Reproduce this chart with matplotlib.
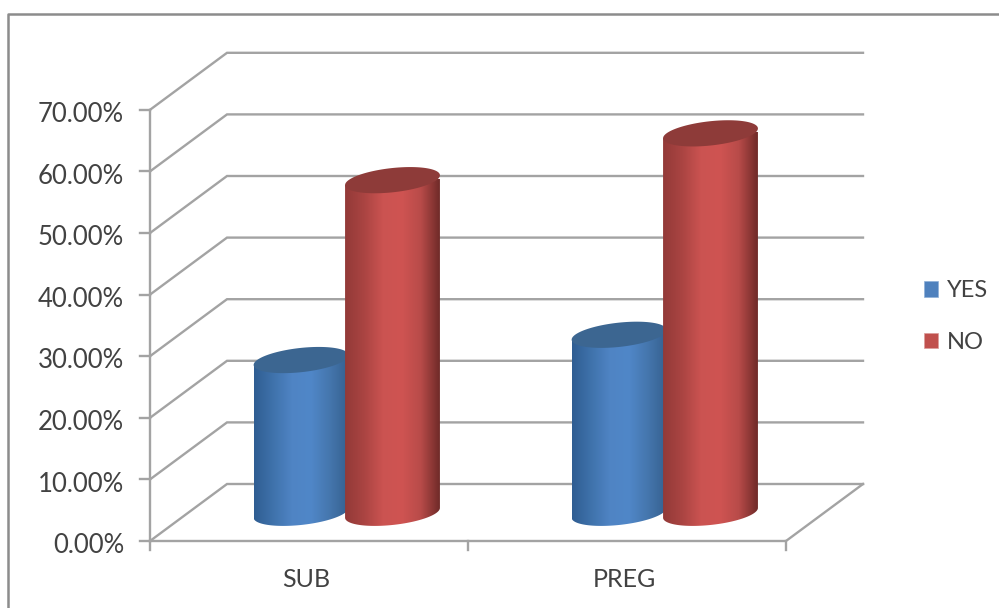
import numpy as np
import matplotlib
matplotlib.use("Agg")
import matplotlib.pyplot as plt
from matplotlib.colors import LinearSegmentedColormap
from matplotlib.patches import Patch, Polygon

categories = ["SUB", "PREG"]
series_names = ["YES", "NO"]
yes_values = [24.8, 28.9]
no_values = [54.0, 61.6]
y_ticks = [0, 10, 20, 30, 40, 50, 60, 70]

plt.rcParams["font.family"] = ["Lato", "DejaVu Sans"]
W, H = 999, 608
fig = plt.figure(figsize=(W / 100, H / 100), dpi=100)
ax = fig.add_axes([0, 0, 1, 1])

# data scales: one category = 318 px, 1 % = 6.16 px; origin of the front plane at pixel (150, 541)
PX, PY = 318.0, 6.16
X0, Y0 = 150.0, 541.0
ax.set_xlim(-X0 / PX, (W - X0) / PX)
ax.set_ylim(-(H - Y0) / PY, Y0 / PY)
ax.axis("off")

DX, DY = 77 / PX, 57 / PY          # depth vector of the floor
GRID = "#a3a3a3"
TXT = "#424242"
LW = 1.7

# outer chart frame
ax.plot([(8 - X0) / PX, (8 - X0) / PX, (999 - X0) / PX],
        [(Y0 - 608) / PY, (Y0 - 14) / PY, (Y0 - 14) / PY], color="#8c8c8c", lw=1.8, zorder=1)

xmax = len(categories)
for v in y_ticks:
    ax.plot([0, DX, xmax + DX], [v, v + DY, v + DY], color=GRID, lw=LW, zorder=1,
            solid_joinstyle="miter")
    ax.plot([-10 / PX, 0], [v, v], color=GRID, lw=LW, zorder=2)
    ax.text(-26 / PX, v - 0.75, f"{v:.2f}%", ha="right", va="center", fontsize=18.5, color=TXT)
ax.plot([0, 0], [0, y_ticks[-1]], color=GRID, lw=LW, zorder=2)
ax.plot([0, xmax, xmax + DX], [0, 0, DY], color=GRID, lw=LW, zorder=2, solid_joinstyle="miter")
for i in range(xmax + 1):
    ax.plot([i, i], [0, -9 / PY], color=GRID, lw=LW, zorder=2)
for i, c in enumerate(categories):
    ax.text(i + 0.5 - 3 / PX, -6.2, c, ha="center", va="center", fontsize=18, color=TXT)

blue = LinearSegmentedColormap.from_list("b", ["#2f5d92", "#3f72ab", "#4f84c4", "#5087c8", "#4576ad", "#35608f"])
red = LinearSegmentedColormap.from_list("r", ["#933a38", "#aa4442", "#cb5351", "#cf5452", "#b84b49", "#6f2a28"])
tops = {"YES": "#3c6691", "NO": "#8e3b39"}
cmaps = {"YES": blue, "NO": red}
OFFS = {"YES": -0.146, "NO": 0.1415}

# cylinder cross-section: half width in x, and depth fraction
HX = 44 / PX
D = 0.23
t = np.linspace(0, 2 * np.pi, 181)


def ellipse(cx, cy):
    x = cx + HX * np.cos(t) + D * DX * np.sin(t)
    y = cy + D * DY * np.sin(t)
    return x, y


def cylinder(ci, name, value, z):
    cx = ci + 0.5 + OFFS[name] + 0.5 * DX
    cy = 0.5 * DY - 0.05
    xb, yb = ellipse(cx, cy)
    xt, yt = ellipse(cx, cy + value)
    il = np.argmin(xb)
    ir = np.argmax(xb)
    # lower silhouette: from the left extreme through the front (sin < 0) to the right extreme
    order = np.r_[il:len(t) - 1, 0:ir + 1] if il > ir else np.arange(il, ir + 1)
    poly_x = np.r_[xb[order], xt[ir], xt[il]]
    poly_y = np.r_[yb[order], yb[ir] + value, yb[il] + value]
    grad = np.linspace(0, 1, 256)[None, :]
    im = ax.imshow(grad, cmap=cmaps[name], extent=[xb.min(), xb.max(), yb.min(), yb[il] + value + 1],
                   aspect="auto", zorder=z, interpolation="bilinear")
    clip = Polygon(np.c_[poly_x, poly_y], closed=True, transform=ax.transData, fc="none", ec="none")
    ax.add_patch(clip)
    im.set_clip_path(clip)
    ax.fill(xt, yt, color=tops[name], zorder=z + 0.1, lw=0)


values = {"YES": yes_values, "NO": no_values}
for ci in range(len(categories)):
    cylinder(ci, "YES", values["YES"][ci], 3 + ci)
    cylinder(ci, "NO", values["NO"][ci], 3.5 + ci)

# imshow resets limits
ax.set_xlim(-X0 / PX, (W - X0) / PX)
ax.set_ylim(-(H - Y0) / PY, Y0 / PY)

handles = [Patch(fc="#4f81bd", ec="#8fb0d8", lw=0.5), Patch(fc="#c0504d", ec="#dc9c9a", lw=0.5)]
fig.legend(handles, series_names, loc="center left", bbox_to_anchor=(919 / W, 1 - 316.5 / H),
           frameon=False, fontsize=17, labelcolor=TXT, handlelength=0.62, handleheight=0.65,
           handletextpad=0.36, labelspacing=1.3, borderpad=0.2, borderaxespad=0)

fig.savefig("out.png", dpi=100, facecolor="white")
